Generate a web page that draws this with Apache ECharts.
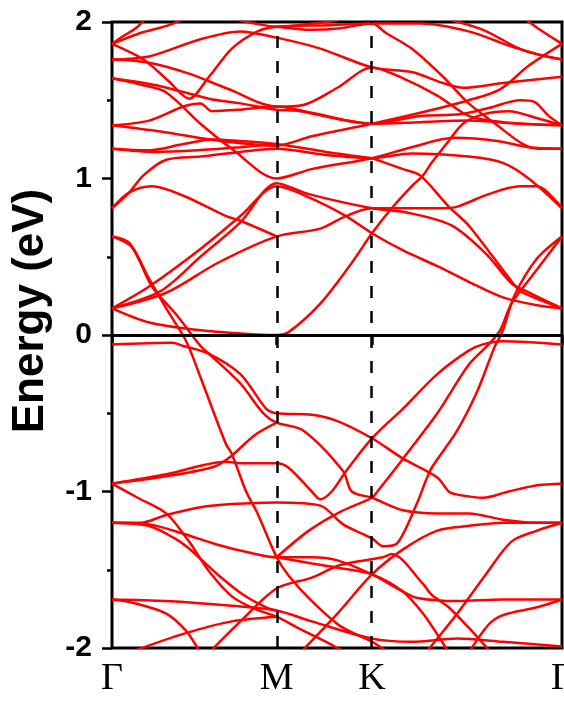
<!DOCTYPE html>
<html>
<head>
<meta charset="utf-8">
<script src="https://cdn.jsdelivr.net/npm/echarts@6/dist/echarts.min.js"></script>
<style>
  html, body { margin: 0; padding: 0; background: #fff; }
  #chart { width: 564px; height: 701px; }
</style>
</head>
<body>
<div id="chart"></div>
<script>
// k-path (units of 2pi/a): Gamma - M - K - Gamma
const kTicks = [0, 0.577, 0.911, 1.577];
const kLabels = ["Γ", "M", "K", "Γ"];

// conduction bands above ~1.1 eV, [k, E]
const upperBands = [
  [[0,1.86],[0.04,1.91],[0.09,1.97],[0.12,2.03]],
  [[0,1.86],[0.10,1.93],[0.20,1.98],[0.26,2.03]],
  [[0,1.86],[0.11,1.76],[0.20,1.62],[0.27,1.51],[0.34,1.65],[0.42,1.83],[0.51,1.94],[0.577,1.97],[0.76,1.98],[0.911,1.99],[0.96,1.93],[1.05,1.83],[1.16,1.65],[1.25,1.48],[1.35,1.34],[1.44,1.22],[1.50,1.19],[1.577,1.19]],
  [[0,1.76],[0.13,1.78],[0.31,1.89],[0.45,1.94],[0.577,1.90],[0.73,1.83],[0.911,1.71],[1.05,1.68],[1.16,1.61],[1.23,1.58],[1.37,1.61],[1.577,1.65]],
  [[0,1.76],[0.13,1.74],[0.27,1.67],[0.41,1.57],[0.577,1.46],[0.67,1.47],[0.79,1.58],[0.911,1.71],[1.02,1.64],[1.14,1.53],[1.25,1.40],[1.37,1.36],[1.577,1.34]],
  [[0,1.64],[0.10,1.60],[0.19,1.55],[0.31,1.35],[0.42,1.19],[0.577,1.00],[0.70,1.06],[0.911,1.13],[1.05,1.20],[1.20,1.26],[1.35,1.24],[1.46,1.20],[1.577,1.19]],
  [[0,1.64],[0.17,1.59],[0.34,1.51],[0.45,1.48],[0.577,1.44],[0.66,1.43],[0.79,1.38],[0.911,1.35],[1.08,1.36],[1.25,1.37],[1.43,1.35],[1.577,1.34]],
  [[0,1.34],[0.17,1.30],[0.38,1.24],[0.577,1.21],[0.70,1.27],[0.911,1.35],[1.08,1.42],[1.25,1.50],[1.36,1.57],[1.46,1.72],[1.577,1.86]],
  [[0,1.34],[0.13,1.37],[0.25,1.46],[0.31,1.48],[0.35,1.43],[0.45,1.44],[0.577,1.46],[0.70,1.42],[0.911,1.35],[1.08,1.40],[1.22,1.41],[1.32,1.45],[1.43,1.50],[1.48,1.49],[1.53,1.40],[1.577,1.34]],
  [[0,1.19],[0.13,1.18],[0.25,1.22],[0.35,1.25],[0.45,1.24],[0.577,1.22],[0.75,1.17],[0.911,1.13]],
  [[0,1.19],[0.15,1.17],[0.30,1.18],[0.45,1.20],[0.577,1.22]],
  [[0.577,1.97],[0.70,1.95],[0.80,1.96],[0.911,1.99],[1.08,1.99],[1.25,1.94],[1.39,1.85],[1.50,1.79],[1.577,1.76]],
  [[1.15,2.03],[1.30,1.95],[1.44,1.82],[1.577,1.76]],
  [[1.44,2.03],[1.50,1.95],[1.577,1.86]],
  [[0.40,2.03],[0.50,1.99],[0.577,1.97],[0.75,2.00],[0.85,2.03]]
];

// conduction bands between 0 and ~1.1 eV
const lowerBands = [
  [[0,0.17],[0.13,0.08],[0.31,0.03],[0.45,0.01],[0.577,0.0],[0.62,0.02],[0.73,0.20],[0.84,0.46],[0.911,0.65],[0.98,0.81],[1.05,0.95],[1.09,1.02],[1.12,1.10],[1.18,1.24],[1.23,1.35],[1.30,1.41],[1.39,1.43],[1.50,1.38],[1.577,1.34]],
  [[0,0.17],[0.13,0.31],[0.31,0.55],[0.45,0.76],[0.577,0.95],[0.69,0.88],[0.82,0.76],[0.911,0.65],[1.02,0.54],[1.14,0.44],[1.25,0.34],[1.37,0.24],[1.49,0.19],[1.577,0.17]],
  [[0,0.17],[0.17,0.28],[0.31,0.50],[0.45,0.72],[0.577,0.97],[0.69,0.90],[0.911,0.81],[1.04,0.78],[1.19,0.70],[1.31,0.52],[1.40,0.33],[1.44,0.29],[1.577,0.17]],
  [[0,0.17],[0.19,0.27],[0.37,0.46],[0.577,0.63],[0.73,0.68],[0.82,0.76],[0.911,0.81],[1.02,0.81],[1.16,0.81],[1.21,0.82],[1.32,0.90],[1.43,0.95],[1.49,0.95],[1.577,0.81]],
  [[0,0.81],[0.06,0.91],[0.11,1.02],[0.19,1.12],[0.31,1.14],[0.45,1.17],[0.577,1.19],[0.75,1.15],[0.911,1.13],[1.05,1.16],[1.25,1.14],[1.37,1.10],[1.46,1.00],[1.577,0.81]],
  [[0,0.81],[0.06,0.91],[0.14,0.95],[0.25,0.89],[0.40,0.76],[0.45,0.73],[0.577,0.63]],
  [[0.911,1.13],[1.02,1.06],[1.08,1.02],[1.18,0.82],[1.25,0.70],[1.41,0.32],[1.44,0.27],[1.577,0.17]]
];

// bands crossing the Fermi level and top valence bands
const crossingBands = [
  [[0,0.63],[0.06,0.59],[0.13,0.36],[0.19,0.17],[0.26,-0.04],[0.31,-0.27],[0.40,-0.70],[0.42,-0.76],[0.47,-1.00],[0.51,-1.14],[0.577,-1.42],[0.62,-1.54],[0.70,-1.70],[0.80,-1.86],[0.911,-1.96],[0.97,-2.03]],
  [[0,0.63],[0.07,0.56],[0.14,0.31],[0.23,0.12],[0.31,-0.07],[0.34,-0.12],[0.45,-0.31],[0.53,-0.50],[0.577,-0.56],[0.67,-0.61],[0.81,-0.87],[0.84,-1.00],[0.911,-1.04],[1.02,-1.12],[1.14,-1.14],[1.25,-1.14],[1.37,-1.18],[1.49,-1.20],[1.577,-1.20]],
  [[0,-0.06],[0.21,-0.05],[0.25,-0.07],[0.34,-0.12],[0.45,-0.25],[0.54,-0.47],[0.577,-0.50],[0.70,-0.51],[0.79,-0.55],[0.911,-0.66],[1.02,-0.79],[1.14,-0.91],[1.18,-1.00],[1.21,-1.02],[1.30,-1.04],[1.39,-1.00],[1.49,-0.96],[1.577,-0.95]],
  [[0,-0.95],[0.19,-0.89],[0.40,-0.81],[0.45,-0.82],[0.577,-0.82],[0.62,-0.85],[0.70,-1.00],[0.73,-1.05],[0.77,-1.00],[0.82,-0.87],[0.911,-0.66],[1.02,-0.47],[1.14,-0.25],[1.25,-0.10],[1.30,-0.06],[1.37,-0.04],[1.577,-0.06]],
  [[0,-1.20],[0.10,-1.20],[0.19,-1.15],[0.31,-1.10],[0.42,-1.08],[0.577,-1.07],[0.73,-1.09],[0.81,-1.21],[0.911,-1.30],[0.95,-1.35],[1.00,-1.33],[1.07,-1.07],[1.10,-0.93],[1.12,-0.85],[1.21,-0.61],[1.28,-0.36],[1.34,-0.08],[1.37,0.03],[1.41,0.25],[1.49,0.49],[1.577,0.63]],
  [[0.577,-1.42],[0.69,-1.25],[0.80,-1.13],[0.911,-1.04],[0.93,-1.00],[1.02,-0.79],[1.14,-0.50],[1.25,-0.19],[1.32,-0.06],[1.36,0.03],[1.40,0.20],[1.49,0.42],[1.577,0.63]]
];

// deeper valence bands
const valenceBands = [
  [[0,-0.95],[0.20,-0.90],[0.36,-0.84],[0.42,-0.77],[0.50,-0.64],[0.577,-0.56]],
  [[0,-0.95],[0.09,-1.04],[0.19,-1.14],[0.27,-1.32],[0.34,-1.51],[0.42,-1.67],[0.50,-1.75],[0.577,-1.80],[0.66,-1.88],[0.76,-1.97],[0.82,-2.03]],
  [[0,-1.20],[0.13,-1.21],[0.25,-1.27],[0.37,-1.34],[0.48,-1.39],[0.577,-1.42],[0.70,-1.42],[0.79,-1.44],[0.911,-1.53],[1.02,-1.64],[1.07,-1.68],[1.21,-1.70],[1.37,-1.69],[1.577,-1.69]],
  [[0,-1.69],[0.19,-1.70],[0.42,-1.73],[0.577,-1.76],[0.70,-1.83],[0.911,-1.94],[1.05,-1.96],[1.21,-1.94],[1.37,-1.96],[1.577,-1.99]],
  [[0,-1.69],[0.07,-1.71],[0.19,-1.78],[0.26,-1.89],[0.30,-2.00],[0.32,-2.05]],
  [[0.66,-2.03],[0.79,-1.78],[0.911,-1.53],[1.02,-1.37],[1.14,-1.25],[1.25,-1.22],[1.37,-1.20],[1.577,-1.20]],
  [[0.34,-2.03],[0.45,-1.83],[0.577,-1.62],[0.70,-1.55],[0.80,-1.47],[0.95,-1.42],[0.98,-1.40],[1.09,-1.59],[1.12,-1.66],[1.18,-1.74],[1.25,-1.87],[1.30,-1.97],[1.33,-2.03]],
  [[1.25,-2.03],[1.32,-1.85],[1.37,-1.79],[1.49,-1.74],[1.577,-1.69]],
  [[1.10,-2.03],[1.21,-1.78],[1.31,-1.53],[1.40,-1.32],[1.49,-1.25],[1.577,-1.20]],
  [[0.06,-2.03],[0.25,-1.91],[0.42,-1.83],[0.577,-1.80]],
  [[0,-1.20],[0.13,-1.22],[0.22,-1.30],[0.28,-1.38],[0.37,-1.53],[0.46,-1.66],[0.54,-1.74],[0.577,-1.76]],
  [[0.577,-1.42],[0.70,-1.46],[0.80,-1.49],[0.911,-1.53],[1.02,-1.64],[1.09,-1.78],[1.16,-1.97],[1.18,-2.03]]
];

const allBands = [...upperBands, ...lowerBands, ...crossingBands, ...valenceBands];

let chart = echarts.init(document.getElementById("chart"));

let series = allBands.map(band => ({
  type: "line",
  data: band,
  showSymbol: false,
  smooth: 0.3,
  silent: true,
  z: 2,
  itemStyle: { color: "#ff0000" },
  lineStyle: { color: "#ff0000", width: 2.5 }
}));

// dashed lines at M and K, solid Fermi level line
series.push({
  type: "line",
  data: [],
  silent: true,
  z: 3,
  markLine: {
    silent: true,
    symbol: ["none", "none"],
    label: { show: false },
    animation: false,
    data: [
      { xAxis: kTicks[1], lineStyle: { color: "#000", width: 2.5, type: [12, 13] } },
      { xAxis: kTicks[2], lineStyle: { color: "#000", width: 2.5, type: [12, 13] } },
      { yAxis: 0, lineStyle: { color: "#000", width: 3, type: "solid" } }
    ]
  }
});

chart.setOption({
  animation: false,
  backgroundColor: "#fff",
  grid: {
    show: true,
    left: 112,
    right: 2,
    top: 22,
    bottom: 53,
    outerBoundsMode: "none",
    containLabel: false,
    borderColor: "#000",
    borderWidth: 3
  },
  graphic: [
    {
      type: "text",
      x: 31,
      y: 311,
      rotation: Math.PI / 2,
      style: {
        text: "Energy (eV)",
        fill: "#000",
        font: "bold 44px 'Liberation Sans', Arial, sans-serif",
        align: "center",
        verticalAlign: "middle"
      }
    }
  ],
  xAxis: {
    type: "value",
    min: 0,
    max: kTicks[3],
    axisLine: { show: false },
    splitLine: { show: false },
    axisTick: {
      customValues: kTicks,
      length: 10,
      lineStyle: { color: "#000", width: 2.5 }
    },
    axisLabel: {
      customValues: kTicks,
      margin: 12,
      color: "#000",
      fontSize: 38,
      fontFamily: "'Liberation Serif', 'DejaVu Serif', serif",
      formatter: function(v) {
        let idx = kTicks.findIndex(t => Math.abs(t - v) < 1e-6);
        return idx >= 0 ? kLabels[idx] : "";
      }
    }
  },
  yAxis: {
    type: "value",
    min: -2,
    max: 2,
    interval: 1,
    axisLine: { show: false },
    splitLine: { show: false },
    axisTick: {
      length: 10,
      lineStyle: { color: "#000", width: 2.5 }
    },
    minorTick: {
      show: true,
      splitNumber: 2,
      length: 5,
      lineStyle: { color: "#000", width: 2.5 }
    },
    minorSplitLine: { show: false },
    axisLabel: {
      margin: 20,
      color: "#000",
      fontSize: 30,
      fontWeight: "bold",
      fontFamily: "'Liberation Sans', Arial, sans-serif"
    }
  },
  series: series
});
</script>
</body>
</html>
